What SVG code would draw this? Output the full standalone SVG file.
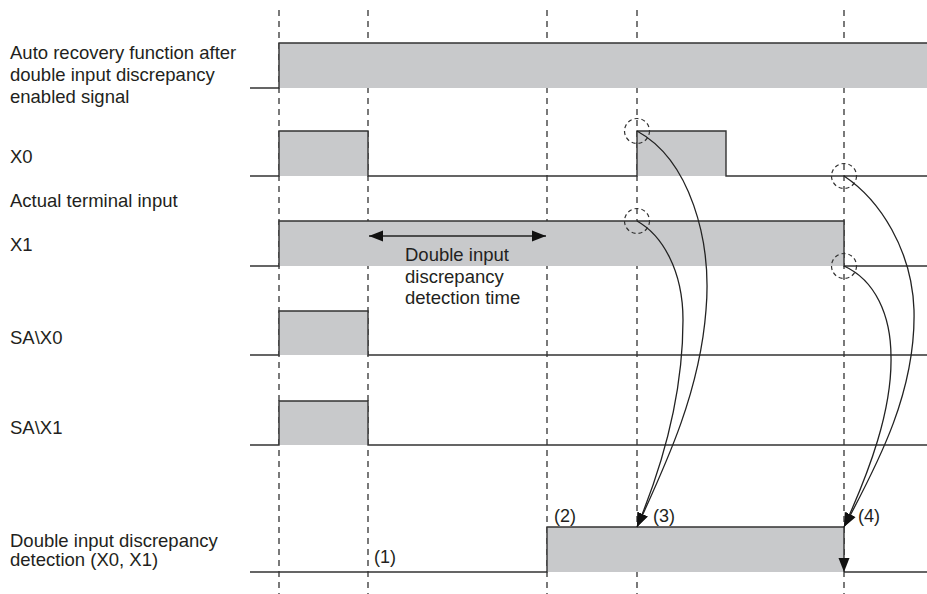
<svg xmlns="http://www.w3.org/2000/svg" width="927" height="594" viewBox="0 0 927 594">
<defs>
<style>
.t{font-family:"Liberation Sans",Arial,sans-serif;font-size:18.5px;fill:#231f20}
.s{font-family:"Liberation Sans",Arial,sans-serif;font-size:18px;fill:#231f20}
.sig{fill:none;stroke:#333;stroke-width:1.4}
.fill{fill:#c8c9cb;stroke:none}
.dash{stroke:#333;stroke-width:1.3;stroke-dasharray:6 5;fill:none}
.circ{fill:none;stroke:#333;stroke-width:1.2;stroke-dasharray:4 3}
.conn{fill:none;stroke:#222;stroke-width:1.3}
</style>
<marker id="ah" markerUnits="userSpaceOnUse" markerWidth="15" markerHeight="12" refX="14" refY="6" orient="auto-start-reverse" viewBox="0 0 15 12">
<path d="M0,0.5 L14,6 L0,11.5 z" fill="#111"/>
</marker>
</defs>
<rect width="927" height="594" fill="#fff"/>

<g id="guides">
<line class="dash" x1="279" y1="10" x2="279" y2="594"/>
<line class="dash" x1="368" y1="10" x2="368" y2="594"/>
<line class="dash" x1="547" y1="10" x2="547" y2="594"/>
<line class="dash" x1="637" y1="10" x2="637" y2="594"/>
<line class="dash" x1="844" y1="10" x2="844" y2="594"/>
</g>

<g id="auto-recovery">
<rect class="fill" x="279" y="43" width="648" height="45"/>
<path class="sig" d="M250,88 H279 V43 H927"/>
<text class="t" x="10" y="59">Auto recovery function after</text>
<text class="t" x="10" y="81">double input discrepancy</text>
<text class="t" x="10" y="103">enabled signal</text>
</g>

<g id="x0">
<rect class="fill" x="279" y="131" width="89" height="45"/>
<rect class="fill" x="637" y="131" width="89" height="45"/>
<path class="sig" d="M250,176 H279 V131 H368 V176 H637 V131 H726 V176 H927"/>
<text class="t" x="10" y="163">X0</text>
</g>

<text class="t" x="10" y="207" id="actual-label">Actual terminal input</text>

<g id="x1">
<rect class="fill" x="279" y="221" width="565" height="45"/>
<path class="sig" d="M250,266 H279 V221 H844 V266 H927"/>
<text class="t" x="10" y="251">X1</text>
</g>

<g id="detection-time">
<line class="conn" x1="369" y1="236" x2="546" y2="236" marker-start="url(#ah)" marker-end="url(#ah)"/>
<text class="t" x="405" y="261">Double input</text>
<text class="t" x="405" y="283">discrepancy</text>
<text class="t" x="405" y="304">detection time</text>
</g>

<g id="sa-x0">
<rect class="fill" x="279" y="311" width="89" height="44"/>
<path class="sig" d="M250,355 H279 V311 H368 V355 H927"/>
<text class="t" x="10" y="344">SA\X0</text>
</g>

<g id="sa-x1">
<rect class="fill" x="279" y="401" width="89" height="44"/>
<path class="sig" d="M250,445 H279 V401 H368 V445 H927"/>
<text class="t" x="10" y="434">SA\X1</text>
</g>

<g id="detection">
<rect class="fill" x="547" y="527" width="297" height="45"/>
<path class="sig" d="M250,572 H547 V527 H844"/>
<path class="sig" d="M844,572 H927"/>
<text class="t" x="10" y="547">Double input discrepancy</text>
<text class="t" x="10" y="566">detection (X0, X1)</text>
<text class="s" x="374" y="563">(1)</text>
<text class="s" x="554" y="522">(2)</text>
<text class="s" x="653" y="522">(3)</text>
<text class="s" x="858" y="522">(4)</text>
</g>

<g id="markers">
<circle class="circ" cx="637" cy="131" r="12.5"/>
<circle class="circ" cx="637" cy="221" r="12.5"/>
<circle class="circ" cx="844" cy="176" r="12.5"/>
<circle class="circ" cx="844" cy="266" r="12.5"/>
</g>

<g id="connectors">
<path class="conn" d="M637,131 C690,160 712,240 706,310 C700,390 668,460 637,527" marker-end="url(#ah)"/>
<path class="conn" d="M637,221 C662,235 683,270 683,320 C683,390 665,460 637,527" marker-end="url(#ah)"/>
<path class="conn" d="M844,176 C880,200 912,250 914,310 C916,390 880,460 844,527" marker-end="url(#ah)"/>
<path class="conn" d="M844,266 C875,280 891,315 891,357 C892,410 870,470 844,527" marker-end="url(#ah)"/>
<line class="conn" x1="844" y1="527" x2="844" y2="572" marker-end="url(#ah)"/>
</g>
</svg>
